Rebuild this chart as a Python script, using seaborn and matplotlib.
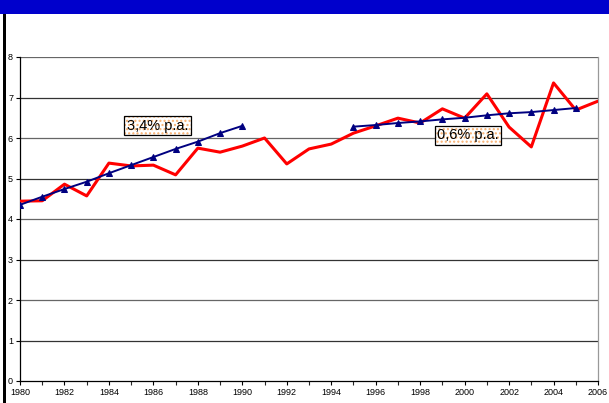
import matplotlib
matplotlib.use("Agg")
import matplotlib.pyplot as plt
import seaborn as sns
import pandas as pd
from matplotlib.patches import Rectangle

years = list(range(1980, 2007))
values = [4.44, 4.45, 4.86, 4.57, 5.38, 5.31, 5.33, 5.09, 5.75, 5.65, 5.80,
          6.00, 5.36, 5.73, 5.85, 6.12, 6.30, 6.49, 6.37, 6.72, 6.49, 7.09,
          6.27, 5.78, 7.36, 6.69, 6.91]
trend1_years = list(range(1980, 1991))
trend1 = [4.35, 4.55, 4.74, 4.92, 5.13, 5.33, 5.53, 5.73, 5.91, 6.12, 6.30]
trend2_years = list(range(1995, 2006))
trend2 = [6.28, 6.32, 6.37, 6.41, 6.46, 6.50, 6.56, 6.61, 6.64, 6.69, 6.74]
label1 = "3,4% p.a."
label2 = "0,6% p.a."
xtick_labels = [str(y) for y in range(1980, 2007, 2)]

sns.set_style("white")
plt.rcParams['font.family'] = ['Liberation Sans', 'DejaVu Sans']
plt.rcParams['hatch.linewidth'] = 1.0

fig = plt.figure(figsize=(6.09, 4.03), dpi=100)
# blue title band and left border
fig.add_artist(Rectangle((0, 1 - 14/403), 1, 14/403, transform=fig.transFigure,
                         facecolor='#0000CC', edgecolor='none'))
fig.add_artist(Rectangle((3/609, 0), 3/609, 1 - 14/403, transform=fig.transFigure,
                         facecolor='black', edgecolor='none'))

ax = fig.add_axes([20/609, 22/403, 578/609, 324/403])

df = pd.DataFrame({"year": years, "value": values})
t1 = pd.DataFrame({"year": trend1_years, "value": trend1})
t2 = pd.DataFrame({"year": trend2_years, "value": trend2})

for yv in range(1, 9):
    ax.axhline(yv, color='#333333' if yv % 2 else '#666666', lw=0.9, zorder=0)

sns.lineplot(data=df, x="year", y="value", ax=ax, color='#FF0000', lw=2.2, zorder=3)
for t in (t1, t2):
    sns.lineplot(data=t, x="year", y="value", ax=ax, color='#000080', lw=1.4,
                 marker='^', markersize=4.5, markeredgecolor='#000080', zorder=4)

ax.set_xlim(1980, 2006)
ax.set_ylim(0, 8)
ax.set_xlabel("")
ax.set_ylabel("")
ax.set_xticks(range(1980, 2007, 2))
ax.set_xticklabels(xtick_labels)
ax.set_xticks(range(1980, 2007), minor=True)
ax.set_yticks(range(0, 9))
ax.tick_params(axis='both', which='major', labelsize=6.5, length=3, width=0.8,
               direction='out', colors='black', pad=2)
ax.tick_params(axis='x', which='minor', length=3, width=0.8, direction='out', bottom=True)
ax.tick_params(axis='x', which='major', bottom=True)
ax.tick_params(axis='y', which='major', left=True)
for s in ('left', 'bottom'):
    ax.spines[s].set_color('black')
    ax.spines[s].set_linewidth(0.9)
ax.spines['top'].set_visible(False)
ax.spines['right'].set_color('#999999')
ax.spines['right'].set_linewidth(0.9)

for (lx, ly, txt) in ((1986.2, 6.3, label1), (2000.15, 6.07, label2)):
    ax.text(lx, ly, txt, fontsize=10.5, ha='center', va='center', zorder=5, color='none',
            bbox=dict(boxstyle='square,pad=0.18', facecolor='white', edgecolor='#F8B070',
                      hatch='....', linewidth=0))
    ax.text(lx, ly, txt, fontsize=10.5, ha='center', va='center', zorder=6, color='black',
            bbox=dict(boxstyle='square,pad=0.18', facecolor='none', edgecolor='black',
                      linewidth=0.9))

fig.savefig("out.png", dpi=100)
